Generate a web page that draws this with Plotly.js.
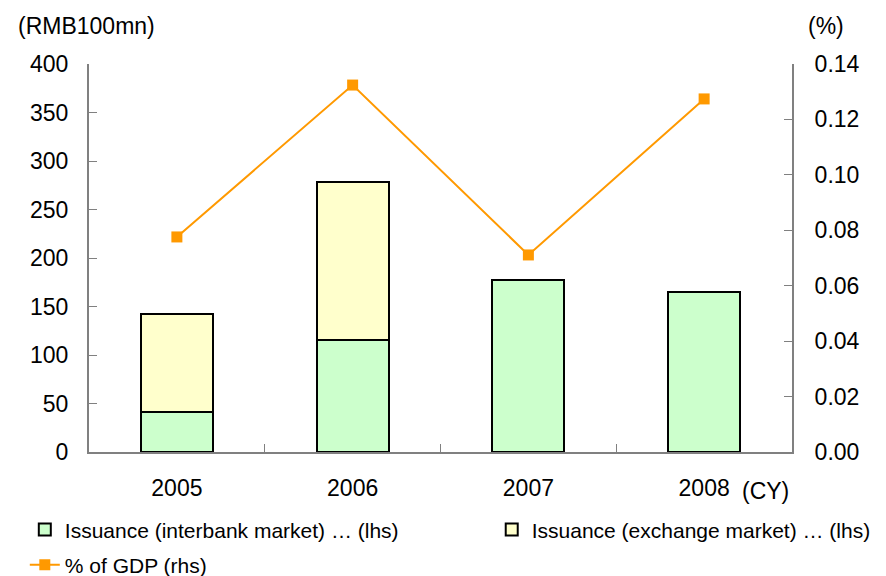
<!DOCTYPE html>
<html>
<head>
<meta charset="utf-8">
<script src="https://cdn.plot.ly/plotly-3.0.1.min.js"></script>
<style>
  body { margin: 0; background: #fff; }
  #chart { width: 886px; height: 576px; }
</style>
</head>
<body>
<div id="chart"></div>
<script>
// fiscal years on the x axis
var years = ["2005", "2006", "2007", "2008"];
// issuance, RMB 100mn
var interbank = [41, 115, 177, 165];
var exchange = [101, 163, 0, 0];
// share of GDP, %
var pctGdp = [0.0776, 0.1324, 0.0711, 0.1274];

const CHART = document.getElementById("chart");
var FONT = "Liberation Sans, Arial, sans-serif";
var GREY = "#808080";
var TICKSIZE = 23;

Plotly.newPlot(CHART, [
    {
        x: years,
        y: interbank,
        type: "bar",
        name: "Issuance (interbank market) \u2026 (lhs)",
        marker: { color: "#CCFFCC", line: { color: "#000", width: 2 } },
        legend: "legend"
    },
    {
        x: years,
        y: exchange,
        type: "bar",
        name: "Issuance (exchange market) \u2026 (lhs)",
        marker: { color: "#FFFFCC", line: { color: "#000", width: 2 } },
        legend: "legend2"
    },
    {
        x: years,
        y: pctGdp,
        yaxis: "y2",
        type: "scatter",
        mode: "lines+markers",
        name: "% of GDP (rhs)",
        line: { color: "#FF9900", width: 2 },
        marker: { symbol: "square", size: 11, color: "#FF9900" },
        legend: "legend3"
    }
], {
    width: 886,
    height: 576,
    margin: { t: 64, b: 124, l: 89, r: 94, autoexpand: false },
    barmode: "stack",
    bargap: 0.59,
    paper_bgcolor: "#fff",
    plot_bgcolor: "#fff",
    font: { family: FONT, size: 21, color: "#000" },
    showlegend: true,
    xaxis: {
        type: "category",
        tickson: "boundaries",
        ticks: "inside",
        ticklen: 8,
        tickcolor: GREY,
        showline: true,
        linecolor: GREY,
        linewidth: 2,
        showgrid: false,
        zeroline: false,
        tickangle: 0,
        tickfont: { size: TICKSIZE },
        ticklabelstandoff: 14
    },
    yaxis: {
        range: [0, 400],
        dtick: 50,
        ticks: "inside",
        ticklen: 8,
        tickcolor: GREY,
        showline: true,
        linecolor: GREY,
        linewidth: 2,
        showgrid: false,
        zeroline: false,
        tickfont: { size: TICKSIZE },
        ticklabelstandoff: 14
    },
    yaxis2: {
        overlaying: "y",
        side: "right",
        range: [0, 0.14],
        dtick: 0.02,
        tickformat: ".2f",
        ticks: "inside",
        ticklen: 8,
        tickcolor: GREY,
        showline: true,
        linecolor: GREY,
        linewidth: 2,
        showgrid: false,
        zeroline: false,
        tickfont: { size: TICKSIZE },
        ticklabelstandoff: 16
    },
    legend: {
        xref: "container", yref: "container",
        x: 0.028, y: 0.08, xanchor: "left", yanchor: "middle",
        bgcolor: "rgba(0,0,0,0)"
    },
    legend2: {
        xref: "container", yref: "container",
        x: 0.555, y: 0.08, xanchor: "left", yanchor: "middle",
        bgcolor: "rgba(0,0,0,0)"
    },
    legend3: {
        xref: "container", yref: "container",
        x: 0.028, y: 0.019, xanchor: "left", yanchor: "middle",
        bgcolor: "rgba(0,0,0,0)"
    },
    annotations: [
        { text: "(RMB100mn)", xref: "paper", yref: "paper", x: -0.004, y: 1.097,
          xanchor: "center", yanchor: "middle", showarrow: false, font: { size: TICKSIZE } },
        { text: "(%)", xref: "paper", yref: "paper", x: 1.048, y: 1.097,
          xanchor: "center", yanchor: "middle", showarrow: false, font: { size: TICKSIZE } },
        { text: "(CY)", xref: "paper", yref: "paper", x: 0.963, y: -0.1,
          xanchor: "center", yanchor: "middle", showarrow: false, font: { size: TICKSIZE } }
    ]
}, { displayModeBar: false, staticPlot: true });
</script>
</body>
</html>
